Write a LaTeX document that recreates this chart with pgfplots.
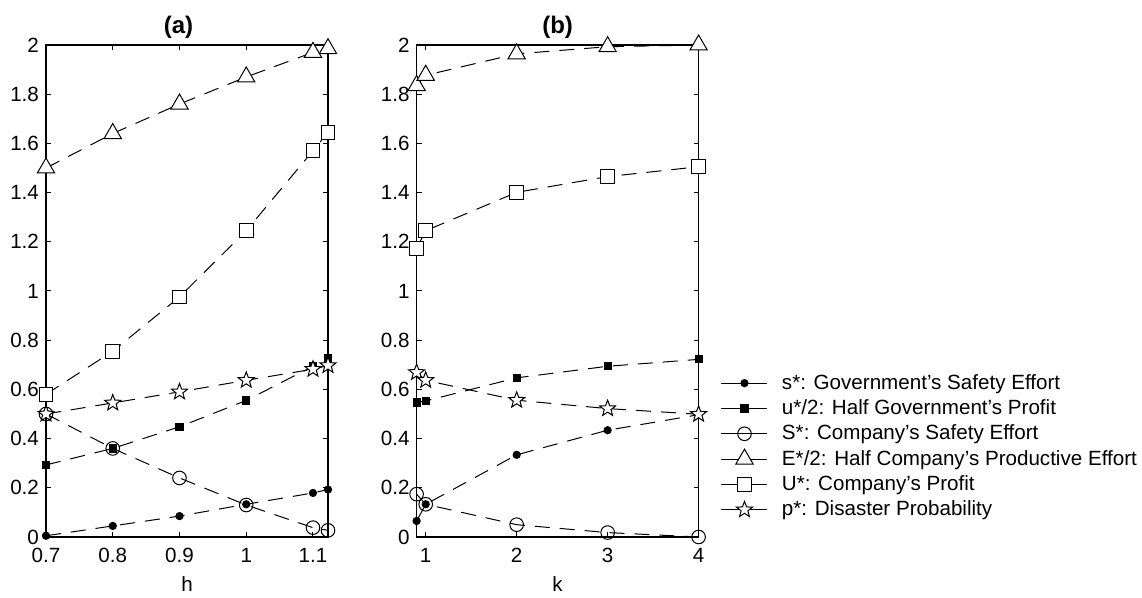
\documentclass[border=0pt]{standalone}
\usepackage{fontspec}
\setmainfont{Liberation Sans}
\usepackage{pgfplots}
\pgfplotsset{compat=1.18}

% outlined five-pointed star, like the MATLAB pentagram
\pgfdeclareplotmark{pentagram}{%
  \pgfpathmoveto{\pgfpointpolar{90}{\pgfplotmarksize}}%
  \pgfpathlineto{\pgfpointpolar{126}{0.42\pgfplotmarksize}}%
  \pgfpathlineto{\pgfpointpolar{162}{\pgfplotmarksize}}%
  \pgfpathlineto{\pgfpointpolar{198}{0.42\pgfplotmarksize}}%
  \pgfpathlineto{\pgfpointpolar{234}{\pgfplotmarksize}}%
  \pgfpathlineto{\pgfpointpolar{270}{0.42\pgfplotmarksize}}%
  \pgfpathlineto{\pgfpointpolar{306}{\pgfplotmarksize}}%
  \pgfpathlineto{\pgfpointpolar{342}{0.42\pgfplotmarksize}}%
  \pgfpathlineto{\pgfpointpolar{18}{\pgfplotmarksize}}%
  \pgfpathlineto{\pgfpointpolar{54}{0.42\pgfplotmarksize}}%
  \pgfpathclose
  \pgfusepathqfillstroke
}

\pgfplotsset{
  panel/.style={
    scale only axis,
    width=141pt, height=246pt,
    ymin=0, ymax=2,
    ytick={0,0.2,...,2},
    tick align=inside,
    tick pos=both,
    major tick length=2.5pt,
    axis line style={line width=0.8pt},
    every tick/.style={black, line width=0.5pt},
    /pgf/number format/assume math mode=true,
    ticklabel style={font=\fontsize{10.3}{12}\selectfont},
    xticklabel style={yshift=-2pt},
    label style={font=\fontsize{10.3}{12}\selectfont},
    title style={font=\bfseries\fontsize{12}{14}\selectfont, anchor=center, yshift=3pt},
    clip=false,
    every axis plot/.append style={black, line width=0.5pt, dash pattern=on 7.5pt off 5pt},
  },
  sdot/.style={mark=*, mark size=1.8pt, mark options={solid}},
  usq/.style={mark=square*, mark size=1.8pt, mark options={solid}},
  Scirc/.style={mark=o, mark size=3.4pt, mark options={solid}},
  Etri/.style={mark=triangle*, mark size=5pt, mark options={solid, fill=white}},
  Usq/.style={mark=square*, mark size=3.4pt, mark options={solid, fill=white}},
  pstar/.style={mark=pentagram, mark size=4.2pt, mark options={solid, fill=white}},
}

\begin{document}
\begin{tikzpicture}
\path (-23pt,-27pt) rectangle (548pt,268.5pt);

% (a) effect of h
\begin{axis}[panel,
  at={(0pt,0pt)}, anchor=south west,
  xmin=0.7, xmax=1.1225,
  xtick={0.7,0.8,0.9,1,1.1},
  xlabel={h},
  title={(a)}, title style={at={(0.47,1)}},
]
\addplot[sdot] coordinates {(0.7,0.005) (0.8,0.045) (0.9,0.085) (1.0,0.133) (1.1,0.179) (1.1225,0.193)};
\addplot[usq] coordinates {(0.7,0.293) (0.8,0.36) (0.9,0.448) (1.0,0.555) (1.1,0.694) (1.1225,0.728)};
\addplot[Scirc] coordinates {(0.7,0.5) (0.8,0.36) (0.9,0.24) (1.0,0.13) (1.1,0.038) (1.1225,0.027)};
\addplot[Etri] coordinates {(0.7,1.5) (0.8,1.64) (0.9,1.76) (1.0,1.87) (1.1,1.97) (1.1225,1.985)};
\addplot[Usq] coordinates {(0.7,0.58) (0.8,0.755) (0.9,0.976) (1.0,1.245) (1.1,1.57) (1.1225,1.645)};
\addplot[pstar] coordinates {(0.7,0.5) (0.8,0.545) (0.9,0.59) (1.0,0.637) (1.1,0.682) (1.1225,0.697)};
\end{axis}

% (b) effect of k
\begin{axis}[panel,
  at={(185.3pt,0pt)}, anchor=south west,
  xmin=0.9, xmax=4,
  xtick={1,2,3,4},
  xlabel={k},
  title={(b)}, title style={at={(0.5,1)}},
  legend style={draw=none, fill=none, at={(1.078,0.184)}, anchor=west,
    inner xsep=0pt, inner ysep=0pt,
    font=\fontsize{10.3}{12}\selectfont, row sep=-0.3pt,
    cells={anchor=west}},
  legend image code/.code={\draw[mark repeat=2, mark phase=2, solid]
    plot coordinates {(0pt,0pt) (11.5pt,0pt) (23pt,0pt)};
    \path (28pt,0pt);},
]
\addplot[sdot] coordinates {(0.9,0.065) (1,0.133) (2,0.334) (3,0.434) (4,0.497)};
\addlegendentry{s*: Government’s Safety Effort}
\addplot[usq] coordinates {(0.9,0.547) (1,0.553) (2,0.647) (3,0.694) (4,0.722)};
\addlegendentry{u*/2: Half Government’s Profit}
\addplot[Scirc] coordinates {(0.9,0.174) (1,0.133) (2,0.05) (3,0.018) (4,0.0)};
\addlegendentry{S*: Company’s Safety Effort}
\addplot[Etri] coordinates {(0.9,1.835) (1,1.877) (2,1.964) (3,1.993) (4,2.0)};
\addlegendentry{E*/2: Half Company’s Productive Effort}
\addplot[Usq] coordinates {(0.9,1.173) (1,1.245) (2,1.401) (3,1.465) (4,1.505)};
\addlegendentry{U*: Company’s Profit}
\addplot[pstar] coordinates {(0.9,0.669) (1,0.637) (2,0.556) (3,0.522) (4,0.499)};
\addlegendentry{p*: Disaster Probability}
\end{axis}
\end{tikzpicture}
\end{document}
